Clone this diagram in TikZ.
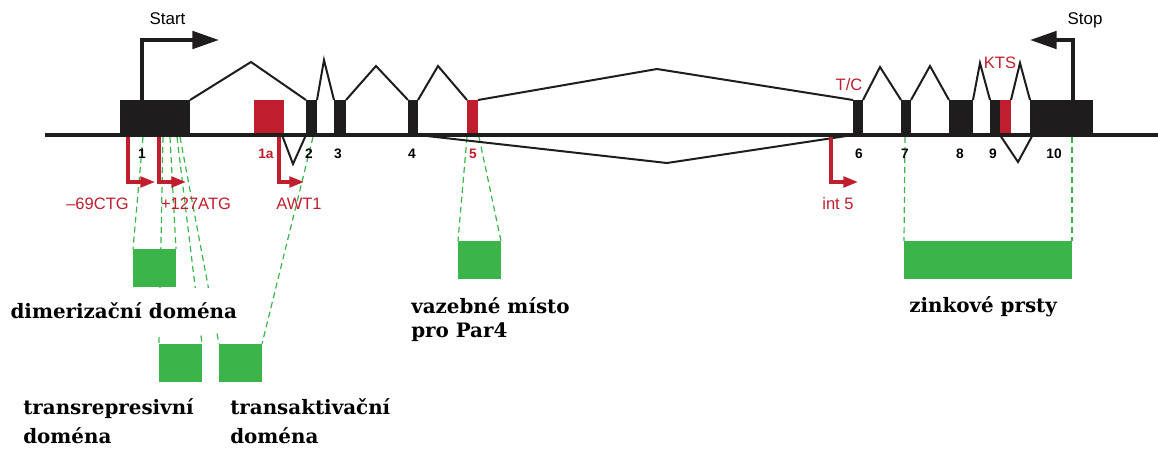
\documentclass[tikz,border=0pt]{standalone}
\usepackage{fontspec}
\setmainfont{DejaVu Serif}
\newfontfamily\lab{Liberation Sans}
\usetikzlibrary{arrows.meta,fit,backgrounds}

\definecolor{exblack}{RGB}{30,28,28}
\definecolor{exred}{RGB}{192,30,46}
\definecolor{domgreen}{RGB}{59,181,74}

\tikzset{
  exon/.style={inner sep=0pt, outer sep=0pt, draw=none, fill=exblack},
  altexon/.style={exon, fill=exred},
  dombox/.style={inner sep=0pt, outer sep=0pt, draw=none, fill=domgreen},
  backbone/.style={draw=exblack, line width=3.5pt},
  intron/.style={draw=exblack, line width=1.5pt, line join=miter},
  site/.style={draw=exblack, line width=3pt, line join=miter,
    -{Triangle[length=20pt,width=13pt]}},
  promoter/.style={draw=exred, line width=2.3pt, line join=miter,
    -{Triangle[length=11pt,width=8pt]}},
  link/.style={draw=domgreen, line width=0.9pt, dash pattern=on 4.5pt off 3pt},
  sitelabel/.style={font=\lab\fontsize{12.7}{14}\selectfont, inner sep=0pt, anchor=base},
  redlabel/.style={font=\lab\fontsize{12.4}{14}\selectfont, text=exred, inner sep=0pt, anchor=base},
  exnum/.style={font=\lab\bfseries\fontsize{10.3}{12}\selectfont, inner sep=0pt, anchor=base},
  domlabel/.style={font=\bfseries\fontsize{14.9}{17}\selectfont, inner sep=0pt, anchor=base west},
}

\begin{document}
\begin{tikzpicture}[x=0.75pt,y=-0.75pt]
\useasboundingbox (0,0) rectangle (1158,450);

% ---- protein domains ----
\node[dombox, fit={(133,249) (176,287)}] (dim) {};
\node[dombox, fit={(159,344) (202,382)}] (trep) {};
\node[dombox, fit={(219,344) (262,382)}] (takt) {};
\node[dombox, fit={(458,241) (501,279)}] (par) {};
\node[dombox, fit={(904,241) (1072,279)}] (zinc) {};

% ---- exons ----
\node[exon, fit={(120,100) (190,135)}] (e1) {};
\node[altexon, fit={(254,100) (284,135)}] (e1a) {};
\node[exon, fit={(306,100) (317,135)}] (e2) {};
\node[exon, fit={(334,100) (346,135)}] (e3) {};
\node[exon, fit={(408,100) (418,135)}] (e4) {};
\node[altexon, fit={(467,100) (478,135)}] (e5) {};
\node[exon, fit={(853,100) (863,135)}] (e6) {};
\node[exon, fit={(901,100) (911,135)}] (e7) {};
\node[exon, fit={(949,100) (973,135)}] (e8) {};
\node[exon, fit={(990,100) (1000,135)}] (e9) {};
\node[altexon, fit={(1000,100) (1011,135)}] (e9k) {};
\node[exon, fit={(1030,100) (1093,135)}] (e10) {};

% ---- dashed links from exons to domains ----
\coordinate (d1) at (143,137);
\coordinate (d2) at (163,137);
\coordinate (d3) at (170,137);
\coordinate (d4) at (177,137);
\coordinate (d5) at (180,137);
\coordinate (d6) at (313,137);
\coordinate (d7) at (467,137);
\coordinate (d8) at (479,137);
\coordinate (d9) at (905,137);
\coordinate (d10) at (1072,137);
\begin{pgfonlayer}{background}
\draw[link] (d1) -- (dim.north west);
\draw[link] (d2) -- (trep.north west);
\draw[link] (d3) -- (dim.north east);
\draw[link] (d4) -- (trep.north east);
\draw[link] (d5) -- (takt.north west);
\draw[link] (d6) -- (takt.north east);
\draw[link] (d7) -- (par.north west);
\draw[link] (d8) -- (par.north east);
\draw[link] (d9) -- (zinc.north west);
\draw[link] (d10) -- (zinc.north east);
\end{pgfonlayer}

% ---- splicing paths ----
\coordinate (p1) at (251,62);
\coordinate (p2) at (324,60);
\coordinate (p3) at (376,66);
\coordinate (p4) at (438,66);
\coordinate (p5) at (657,69);
\coordinate (p6) at (880,67);
\coordinate (p7) at (930,66);
\coordinate (p8) at (980,63);
\coordinate (p9) at (1020,63);
\coordinate (q1) at (293,164);
\coordinate (q2) at (667,163);
\coordinate (q3) at (1018,162);
\draw[intron] (e1.north east) -- (p1) -- (e2.north west);
\draw[intron] (e2.north east) -- (p2) -- (e3.north west);
\draw[intron] (e3.north east) -- (p3) -- (e4.north west);
\draw[intron] (e4.north east) -- (p4) -- (e5.north west);
\draw[intron] (e5.north east) -- (p5) -- (e6.north west);
\draw[intron] (e6.north east) -- (p6) -- (e7.north west);
\draw[intron] (e7.north east) -- (p7) -- (e8.north west);
\draw[intron] (e8.north east) -- (p8) -- (e9.north west);
\draw[intron] (e9k.north east) -- (p9) -- (e10.north west);
\draw[intron] ([xshift=-1.5pt]e1a.south east) -- (q1) -- (e2.south west);
\draw[intron] (e4.south east) -- (q2) -- (e6.south west);
\draw[intron] (e9k.south west) -- (q3) -- ([xshift=2pt]e10.south west);

% ---- genomic backbone ----
\coordinate (gl) at (45,135);
\coordinate (gr) at (1158,135);
\draw[backbone] (gl) -- (gr);

% ---- start / stop sites ----
\coordinate (sb) at (142,108);
\coordinate (st) at (219,40);
\coordinate (tb) at (1073,108);
\coordinate (tt) at (1030,40);
\draw[site] (sb) |- (st);
\draw[site] (tb) |- (tt);
\node[sitelabel] (startlbl) at (167.5,24.5) {Start};
\node[sitelabel] (stoplbl) at (1085,24.5) {Stop};

% ---- alternative translation / transcription starts ----
\coordinate (a1) at (128,137);  \coordinate (a1t) at (155,182);
\coordinate (a2) at (159,137);  \coordinate (a2t) at (186,182);
\coordinate (a3) at (279,137);  \coordinate (a3t) at (304,182);
\coordinate (a4) at (831,137);  \coordinate (a4t) at (858,182);
\draw[promoter] (a1) |- (a1t);
\draw[promoter] (a2) |- (a2t);
\draw[promoter] (a3) |- (a3t);
\draw[promoter] (a4) |- (a4t);
\node[redlabel] (l1) at (97.5,209) {–69CTG};
\node[redlabel] (l2) at (196,209) {+127ATG};
\node[redlabel] (l3) at (299,209) {AWT1};
\node[redlabel] (l4) at (838,209) {int 5};
\node[redlabel] (tc) at (849,90) {T/C};
\node[redlabel] (kts) at (1000,68) {KTS};

% ---- exon numbers ----
\node[exnum] (n1) at (142,158) {1};
\node[exnum, text=exred] (n1a) at (266,158) {1a};
\node[exnum] (n2) at (309,158) {2};
\node[exnum] (n3) at (338,158) {3};
\node[exnum] (n4) at (412,158) {4};
\node[exnum, text=exred] (n5) at (473,158) {5};
\node[exnum] (n6) at (859,158) {6};
\node[exnum] (n7) at (905,158) {7};
\node[exnum] (n8) at (960,158) {8};
\node[exnum] (n9) at (993,158) {9};
\node[exnum] (n10) at (1054,158) {10};

% ---- domain names ----
\node[domlabel, fill=white, minimum height=34pt, inner xsep=1pt] (tdim) at (9,318) {dimerizační doména};
\node[domlabel] (ttrep1) at (23,414) {transrepresivní};
\node[domlabel] (ttrep2) at (23,443) {doména};
\node[domlabel] (ttakt1) at (230,414) {transaktivační};
\node[domlabel] (ttakt2) at (230,443) {doména};
\node[domlabel] (tpar1) at (411,313) {vazebné místo};
\node[domlabel] (tpar2) at (411,337) {pro Par4};
\node[domlabel] (tzinc) at (909,312) {zinkové prsty};
\end{tikzpicture}
\end{document}
